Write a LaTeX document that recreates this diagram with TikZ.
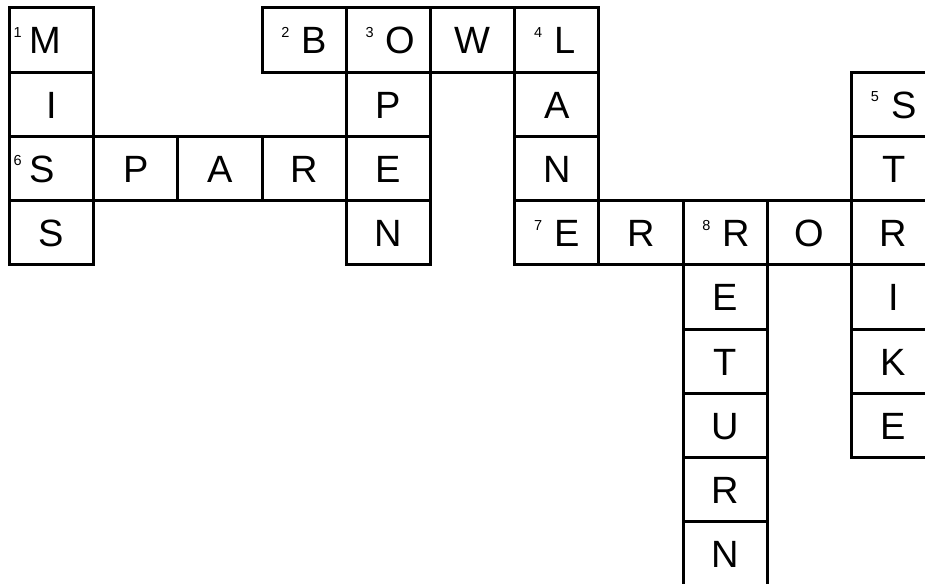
\documentclass[tikz,border=0pt]{standalone}
\usepackage{fontspec}
\setmainfont{Liberation Sans}
\begin{document}
\begin{tikzpicture}[x=1pt,y=-1pt,
  cell/.style={draw, line width=3pt, minimum width=84.2pt, minimum height=64.2pt, inner sep=0pt, outer sep=0pt},
  letter/.style={inner sep=0pt, outer sep=0pt, font=\fontsize{38}{38}\selectfont},
  clue/.style={inner sep=0pt, outer sep=0pt, font=\fontsize{14.5}{14.5}\selectfont}]
\useasboundingbox (0,0) rectangle (925,583);
\clip (0,0) rectangle (925,583);
% cells
\foreach \r/\c in {0/0,0/3,0/4,0/5,0/6,
                   1/0,1/4,1/6,1/10,
                   2/0,2/1,2/2,2/3,2/4,2/6,2/10,
                   3/0,3/4,3/6,3/7,3/8,3/9,3/10,
                   4/8,4/10,5/8,5/10,6/8,6/10,7/8,8/8}
  \node[cell] (c-\r-\c) at ({9.5+84.2*(\c+0.5)},{8+64.2*(\r+0.5)}) {};
% plain letters
\foreach \r/\c/\L in {0/5/W,1/0/I,1/4/P,1/6/A,
                      2/1/P,2/2/A,2/3/R,2/4/E,2/6/N,2/10/T,
                      3/0/S,3/4/N,3/7/R,3/9/O,3/10/R,
                      4/8/E,4/10/I,5/8/T,5/10/K,6/8/U,6/10/E,7/8/R,8/8/N}
  \node[letter, anchor=base] (l-\r-\c) at ({9.5+84.2*(\c+0.5)},{8+64.2*\r+46}) {\L};
% numbered letters
\foreach \r/\c/\n/\L/\no/\lo in {0/0/1/M/4/20, 0/3/2/B/19.3/39.5, 0/4/3/O/19.3/39.5,
                                 0/6/4/L/19.3/39.5, 1/10/5/S/19.3/39.5, 2/0/6/S/4/20,
                                 3/6/7/E/19.3/39.5, 3/8/8/R/19.3/39.5}{
  \node[clue, anchor=base west] (n-\r-\c) at ({9.5+84.2*\c+\no},{8+64.2*\r+29.5}) {\n};
  \node[letter, anchor=base west] (l-\r-\c) at ({9.5+84.2*\c+\lo},{8+64.2*\r+46}) {\L};
}
\end{tikzpicture}
\end{document}
